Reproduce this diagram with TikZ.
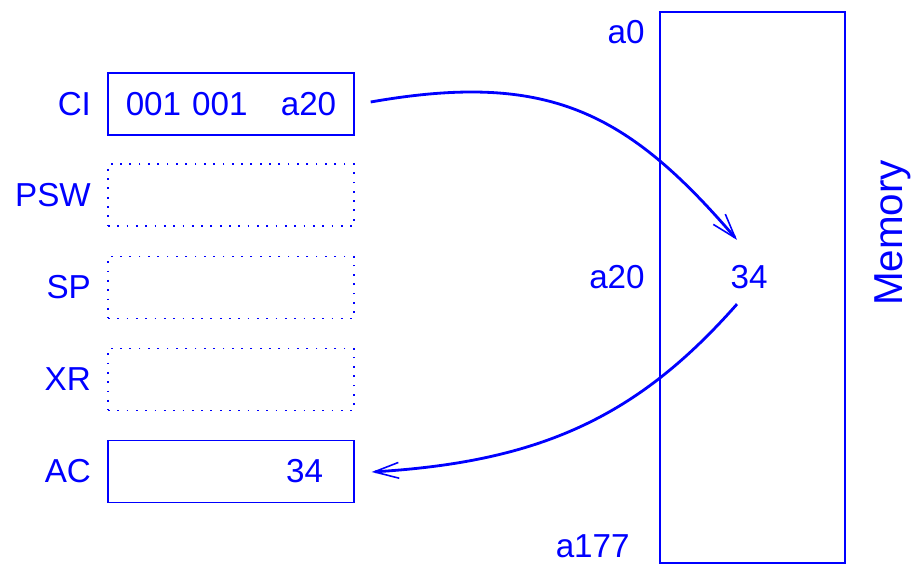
\documentclass[tikz,border=0pt]{standalone}
\usepackage{fontspec}
\setmainfont{Liberation Sans}
\usepackage{tikz}
\usetikzlibrary{calc,arrows.meta,positioning}
\definecolor{regblue}{RGB}{0,0,255}

\begin{document}
\begin{tikzpicture}[
        x=0.02cm, y=-0.02cm,
        every node/.style={text=regblue, font=\fontsize{18.9}{22}\selectfont},
        reg/.style={draw=regblue, line width=0.8pt, rectangle, minimum width=4.92cm, minimum height=1.24cm, text width=3.68cm, inner xsep=0.62cm, align=center},
        emptyreg/.style={reg, line width=1pt, dash pattern=on 1pt off 4.3pt},
        lbl/.style={inner sep=0pt},
        flow/.style={-{Straight Barb[length=14pt, width=9pt, line width=0.9pt]}, regblue, line width=1.6pt}
    ]
        \useasboundingbox (0,0) rectangle (913,564);

        % Registers
        \node[reg, text width=4.4cm, inner xsep=0.2cm] (ci) at (231,104) {001 001\quad a20};
        \node[emptyreg] (psw) at (231,195) {};
        \node[emptyreg] (sp) at (231,287.5) {};
        \node[emptyreg] (xr) at (231,379.5) {};
        \node[reg, align=right] (ac) at (231,471.5) {34};

        \node[lbl, left=0.32cm of ci] (cilbl) {CI};
        \node[lbl, left=0.32cm of psw] (pswlbl) {PSW};
        \node[lbl, left=0.32cm of sp] (splbl) {SP};
        \node[lbl, left=0.32cm of xr] (xrlbl) {XR};
        \node[lbl, left=0.32cm of ac] (aclbl) {AC};

        % Memory
        \node[draw=regblue, line width=0.8pt, rectangle, minimum width=3.7cm, minimum height=11.02cm] (mem) at (752.5,287.5) {};
        \node[lbl] (memval) at (749,277) {34};
        \node[lbl, anchor=east] (a0) at (645,32) {a0};
        \node[lbl, anchor=east] (a20) at (645,277) {a20};
        \node[lbl, anchor=east] (a177) at (630,546) {a177};
        \node[lbl, rotate=90, font=\fontsize{23}{26}\selectfont] (memlbl) at (893,233) {Memory};

        % Arrows
        \draw[flow] ($(ci.east)+(16,-2)$) .. controls (547,71) and (626.5,111) .. ($(memval.north)+(-12,-25)$);
        \draw[flow] ($(memval.south)+(-12,15)$) .. controls (638,416.5) and (541,461.8) .. ($(ac.east)+(17,0.5)$);
    \end{tikzpicture}
\end{document}
